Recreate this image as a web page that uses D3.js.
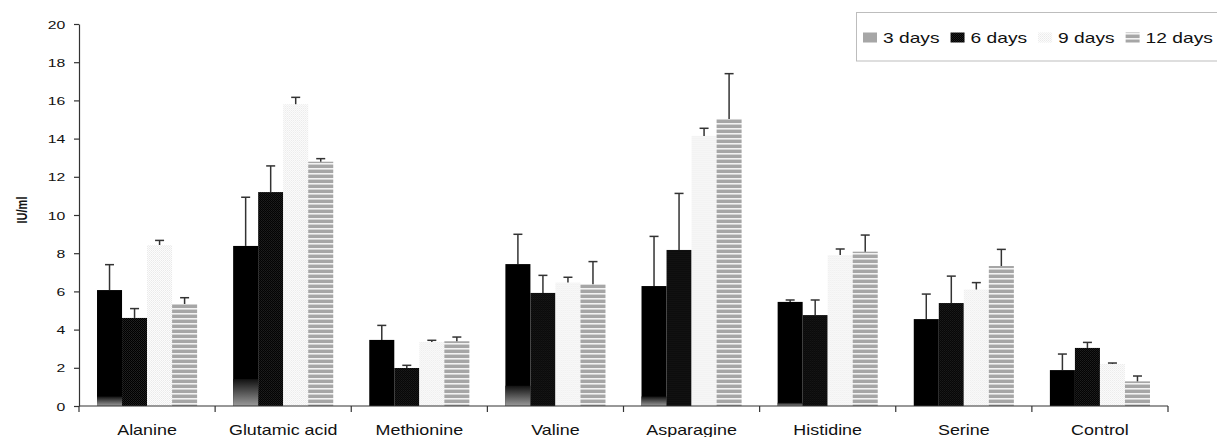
<!DOCTYPE html>
<html>
<head>
<meta charset="utf-8">
<script src="https://cdn.jsdelivr.net/npm/d3@7/dist/d3.min.js"></script>
<style>
  html, body { margin: 0; padding: 0; background: #fff; }
  svg { display: block; font-family: "Liberation Sans", Arial, sans-serif; }
</style>
</head>
<body>
<svg id="chart" width="1217" height="437"></svg>
<script>
// ---- data ----
const categories = ["Alanine", "Glutamic acid", "Methionine", "Valine", "Asparagine", "Histidine", "Serine", "Control"];
const seriesNames = ["3 days", "6 days", "9 days", "12 days"];
const days3  = [6.07, 8.38, 3.46, 7.43, 6.28, 5.45, 4.55, 1.88];
const days6  = [4.61, 11.20, 1.99, 5.92, 8.17, 4.76, 5.39, 3.04];
const days9  = [8.43, 15.80, 3.35, 6.46, 14.14, 7.90, 6.10, 2.20];
const days12 = [5.34, 12.79, 3.39, 6.37, 15.03, 8.08, 7.33, 1.29];
const err3   = [1.33, 2.55, 0.76, 1.56, 2.60, 0.10, 1.31, 0.84];
const err6   = [0.49, 1.37, 0.14, 0.92, 2.96, 0.79, 1.41, 0.29];
const err9   = [0.24, 0.36, 0.09, 0.28, 0.40, 0.32, 0.36, 0.05];
const err12  = [0.33, 0.16, 0.22, 1.19, 2.37, 0.87, 0.87, 0.28];
// grey shaded base of the 3-day bars (as rendered in the source figure)
const base3  = [0.50, 1.41, 0.00, 1.06, 0.50, 0.17, 0.00, 0.00];
const yTicks = [0, 2, 4, 6, 8, 10, 12, 14, 16, 18, 20];
const yLabel = "IU/ml";

const values = [days3, days6, days9, days12];
const errors = [err3, err6, err9, err12];

// ---- layout ----
const svg = d3.select("#chart");
const mLeft = 79, mRight = 1168, mTop = 24, mBottom = 406;
const SX = 1.28; // horizontal text stretch seen in the source image

const x0 = d3.scaleBand().domain(categories).range([mLeft, mRight]).padding(0);
const x1 = d3.scaleBand().domain(seriesNames).range([0, x0.bandwidth()]).paddingInner(0).paddingOuter(0.72);
const y = d3.scaleLinear().domain([0, 20]).range([mBottom, mTop]);

// ---- patterns ----
const defs = svg.append("defs");
const p6 = defs.append("pattern").attr("id", "p6").attr("patternUnits", "userSpaceOnUse").attr("width", 2).attr("height", 2);
p6.append("rect").attr("width", 2).attr("height", 2).attr("fill", "#000");
p6.append("rect").attr("x", 0).attr("y", 0).attr("width", 1).attr("height", 1).attr("fill", "#222");
p6.append("rect").attr("x", 1).attr("y", 1).attr("width", 1).attr("height", 1).attr("fill", "#1a1a1a");

const p9 = defs.append("pattern").attr("id", "p9").attr("patternUnits", "userSpaceOnUse").attr("width", 2).attr("height", 2);
p9.append("rect").attr("width", 2).attr("height", 2).attr("fill", "#fcfcfc");
p9.append("rect").attr("x", 0).attr("y", 0).attr("width", 1).attr("height", 1).attr("fill", "#eaeaea");
p9.append("rect").attr("x", 1).attr("y", 1).attr("width", 1).attr("height", 1).attr("fill", "#f0f0f0");

const p12 = defs.append("pattern").attr("id", "p12").attr("patternUnits", "userSpaceOnUse").attr("width", 4).attr("height", 5);
p12.append("rect").attr("width", 4).attr("height", 5).attr("fill", "#a6a6a6");
p12.append("rect").attr("y", 3).attr("width", 4).attr("height", 1).attr("fill", "#f2f2f2");
p12.append("rect").attr("y", 4).attr("width", 4).attr("height", 1).attr("fill", "#d2d2d2");

const g3 = defs.append("linearGradient").attr("id", "g3").attr("x1", 0).attr("y1", 0).attr("x2", 0).attr("y2", 1);
g3.append("stop").attr("offset", "0%").attr("stop-color", "#111");
g3.append("stop").attr("offset", "100%").attr("stop-color", "#9a9a9a");

const fills = ["#000", "url(#p6)", "url(#p9)", "url(#p12)"];
const legendFills = ["#a6a6a6", "url(#p6)", "url(#p9)", "url(#p12)"];

// ---- bars ----
const groups = svg.append("g").selectAll("g").data(categories).join("g")
  .attr("transform", d => `translate(${x0(d)},0)`);

groups.each(function(cat, ci) {
  const g = d3.select(this);
  seriesNames.forEach((s, si) => {
    const v = values[si][ci];
    const bx = x1(s), bw = x1.bandwidth();
    g.append("rect").attr("x", bx).attr("y", y(v)).attr("width", bw).attr("height", y(0) - y(v)).attr("fill", fills[si]);
    if (si === 0 && base3[ci] > 0) {
      g.append("rect").attr("x", bx).attr("y", y(base3[ci])).attr("width", bw)
        .attr("height", y(0) - y(base3[ci])).attr("fill", "url(#g3)");
    }
  });
  seriesNames.forEach((s, si) => {
    const v = values[si][ci], e = errors[si][ci];
    const cx = x1(s) + x1.bandwidth() / 2;
    g.append("line").attr("x1", cx).attr("x2", cx).attr("y1", y(v)).attr("y2", y(v + e))
      .attr("stroke", "#333").attr("stroke-width", 1.5);
    g.append("line").attr("x1", cx - 4.5).attr("x2", cx + 4.5).attr("y1", y(v + e)).attr("y2", y(v + e))
      .attr("stroke", "#333").attr("stroke-width", 1.5);
  });
});

// ---- axes ----
const yAxis = svg.append("g").attr("transform", `translate(${mLeft},0)`)
  .call(d3.axisLeft(y).tickValues(yTicks).tickSize(5).tickSizeOuter(0).tickFormat(d3.format("d")));
yAxis.select(".domain").attr("stroke", "#333").attr("stroke-width", 1.2);
yAxis.selectAll(".tick line").attr("stroke", "#333").attr("stroke-width", 1.2);
yAxis.selectAll(".tick text").attr("x", -10).attr("dy", "0.35em")
  .attr("transform", "scale(1.37,1)")
  .style("font-size", "11.5px").attr("fill", "#111");

const xAxisG = svg.append("g");
xAxisG.append("line").attr("x1", mLeft).attr("x2", mRight).attr("y1", mBottom).attr("y2", mBottom)
  .attr("stroke", "#333").attr("stroke-width", 1.2);
const bounds = categories.map(c => x0(c)).concat([mRight]);
xAxisG.selectAll("line.tk").data(bounds).join("line").attr("class", "tk")
  .attr("x1", d => d).attr("x2", d => d).attr("y1", mBottom).attr("y2", mBottom + 6)
  .attr("stroke", "#333").attr("stroke-width", 1.2);
xAxisG.selectAll("text").data(categories).join("text")
  .attr("transform", d => `translate(${x0(d) + x0.bandwidth() / 2},${435}) scale(${SX},1)`)
  .attr("text-anchor", "middle").style("font-size", "14px").attr("fill", "#111")
  .text(d => d);

// y label
svg.append("text")
  .attr("transform", `translate(27,210) scale(1.3,1) rotate(-90)`)
  .attr("text-anchor", "middle").style("font-size", "11px").style("font-weight", "bold").attr("fill", "#111")
  .text(yLabel);

// ---- legend ----
const lg = svg.append("g");
lg.append("rect").attr("x", 856.5).attr("y", 12.5).attr("width", 400).attr("height", 48.5)
  .attr("fill", "#fff").attr("stroke", "#bdbdbd").attr("stroke-width", 1);
let lx = 863;
seriesNames.forEach((s, si) => {
  lg.append("rect").attr("x", lx).attr("y", 32.5).attr("width", 14).attr("height", 10).attr("fill", legendFills[si]);
  const t = lg.append("text")
    .attr("transform", `translate(${lx + 20},42.5) scale(${SX},1)`)
    .style("font-size", "15px").attr("fill", "#111").text(s);
  const w = t.node().getComputedTextLength() * SX;
  lx = lx + 20 + w + 11;
});
</script>
</body>
</html>
